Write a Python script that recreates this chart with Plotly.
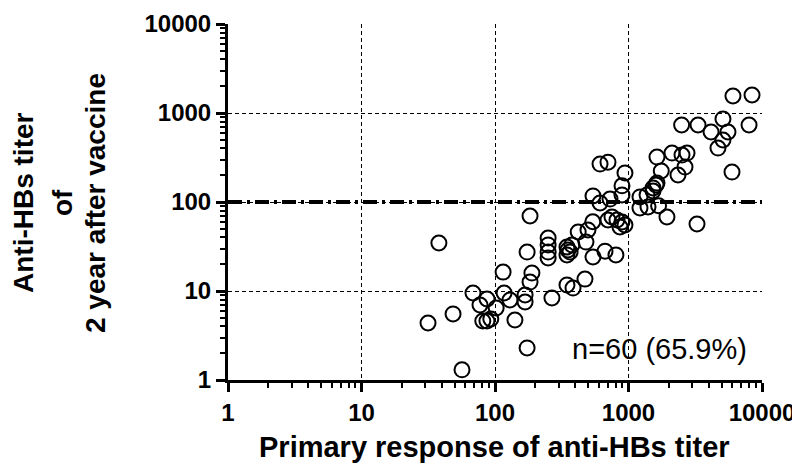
import plotly.graph_objects as go

# Primary response (x) and titer 2 years after vaccine (y)
primary = [56.6, 38, 31.5, 48.5, 68.4, 77.2, 87.1, 81, 87, 93, 102,
           115, 117, 129.5, 141, 168, 168, 183, 189, 174, 174, 183,
           267, 346, 384, 472,
           250, 250, 250, 250,
           346, 352, 346, 377, 365,
           420, 497, 480, 540, 542, 667, 805,
           612, 702, 941, 894, 894, 542, 612, 727,
           1219, 1377, 1527, 1607, 1219, 1400, 1680, 1941, 3260,
           752, 820, 894, 863, 941, 702,
           1634, 2118, 2516, 2744, 2650, 2349, 1760, 1634, 1527,
           5960, 2500, 3318, 4153, 5100, 5560, 5100, 4680, 8000, 6060, 8420]
after2y = [1.3, 34.6, 4.37, 5.52, 9.5, 6.96, 8.13, 4.6, 4.6, 4.85, 6.44,
           16.3, 9.5, 7.92, 4.72, 9.02, 7.52, 12.6, 15.9, 27.4, 2.29, 69.6,
           8.34, 11.7, 10.8, 13.6,
           39.4, 32.9, 27.4, 23.5,
           31.2, 28.9, 25.4, 32.9, 27.4,
           46, 48.5, 35.5, 60, 24.1, 28, 25.4,
           267, 280, 212, 152, 120, 117, 97.5, 108,
           114, 120, 133, 155, 85.6, 87.9, 91, 67.8, 56.6,
           67.8, 62.8, 59.6, 52.4, 55.2, 62.8,
           320, 355, 337, 355, 247, 201, 223, 163, 144,
           217, 733, 733, 612, 857, 612, 497, 404, 733, 1553, 1593]

cutoff_x = [1, 10000]
cutoff_y = [100, 100]

tick_vals = [1, 10, 100, 1000, 10000]
tick_text = ["1", "10", "100", "1000", "10000"]
minor_vals = [k * 10 ** d for d in range(4) for k in range(2, 10)]

x_title = "Primary response of anti-HBs titer"
y_title_lines = ["Anti-HBs titer", "of", "2 year after vaccine"]
note = "n=60 (65.9%)"

FONT = "Arial, Liberation Sans, sans-serif"

fig = go.Figure()
fig.add_trace(go.Scatter(
    x=cutoff_x, y=cutoff_y, mode="lines",
    line=dict(color="black", width=4, dash="14px,5px,3px,5px"),
    hoverinfo="skip", showlegend=False))
fig.add_trace(go.Scatter(
    x=primary, y=after2y, mode="markers",
    marker=dict(symbol="circle-open", size=15, color="black",
                line=dict(color="black", width=2)),
    showlegend=False))

axis_common = dict(
    type="log", range=[0, 4], automargin=False,
    tickmode="array", tickvals=tick_vals, ticktext=tick_text,
    ticks="outside", ticklen=9, tickwidth=3, tickcolor="black",
    showline=True, linewidth=3, linecolor="black",
    showgrid=True, gridcolor="black", gridwidth=1.4, griddash="4px,3px",
    zeroline=False,
    tickfont=dict(family=FONT, size=24, color="black", weight="bold"),
    minor=dict(tickmode="array", tickvals=minor_vals, ticks="outside",
               ticklen=5, tickwidth=2, tickcolor="black", showgrid=False),
)

fig.update_xaxes(**axis_common)
fig.update_yaxes(**axis_common)

# plot area in the page: x 228..762 px, y 24..380 px (page body has an 8px margin)
def px_x(p):
    return (p - 228) / 534.0

def px_y(p):
    return (380 - p) / 356.0

annotations = [
    dict(text="<b>" + x_title + "</b>", xref="paper", yref="paper",
         x=px_x(494), y=px_y(447), xanchor="center", yanchor="middle", showarrow=False,
         font=dict(family=FONT, size=29, color="black")),
    dict(text=note, xref="paper", yref="paper",
         x=px_x(749), y=px_y(349), xanchor="right", yanchor="middle", showarrow=False,
         font=dict(family=FONT, size=29, color="black")),
]
for line, cx in zip(y_title_lines, [23, 62, 95]):
    annotations.append(dict(
        text="<b>" + line + "</b>", xref="paper", yref="paper",
        x=px_x(cx), y=px_y(203), xanchor="center", yanchor="middle", showarrow=False,
        textangle=-90, font=dict(family=FONT, size=28, color="black")))

fig.update_layout(
    width=800, height=458,
    margin=dict(l=220, r=46, t=16, b=86),
    plot_bgcolor="white", paper_bgcolor="white",
    font=dict(family=FONT, color="black"),
    annotations=annotations,
)

fig.write_html("out.html")
